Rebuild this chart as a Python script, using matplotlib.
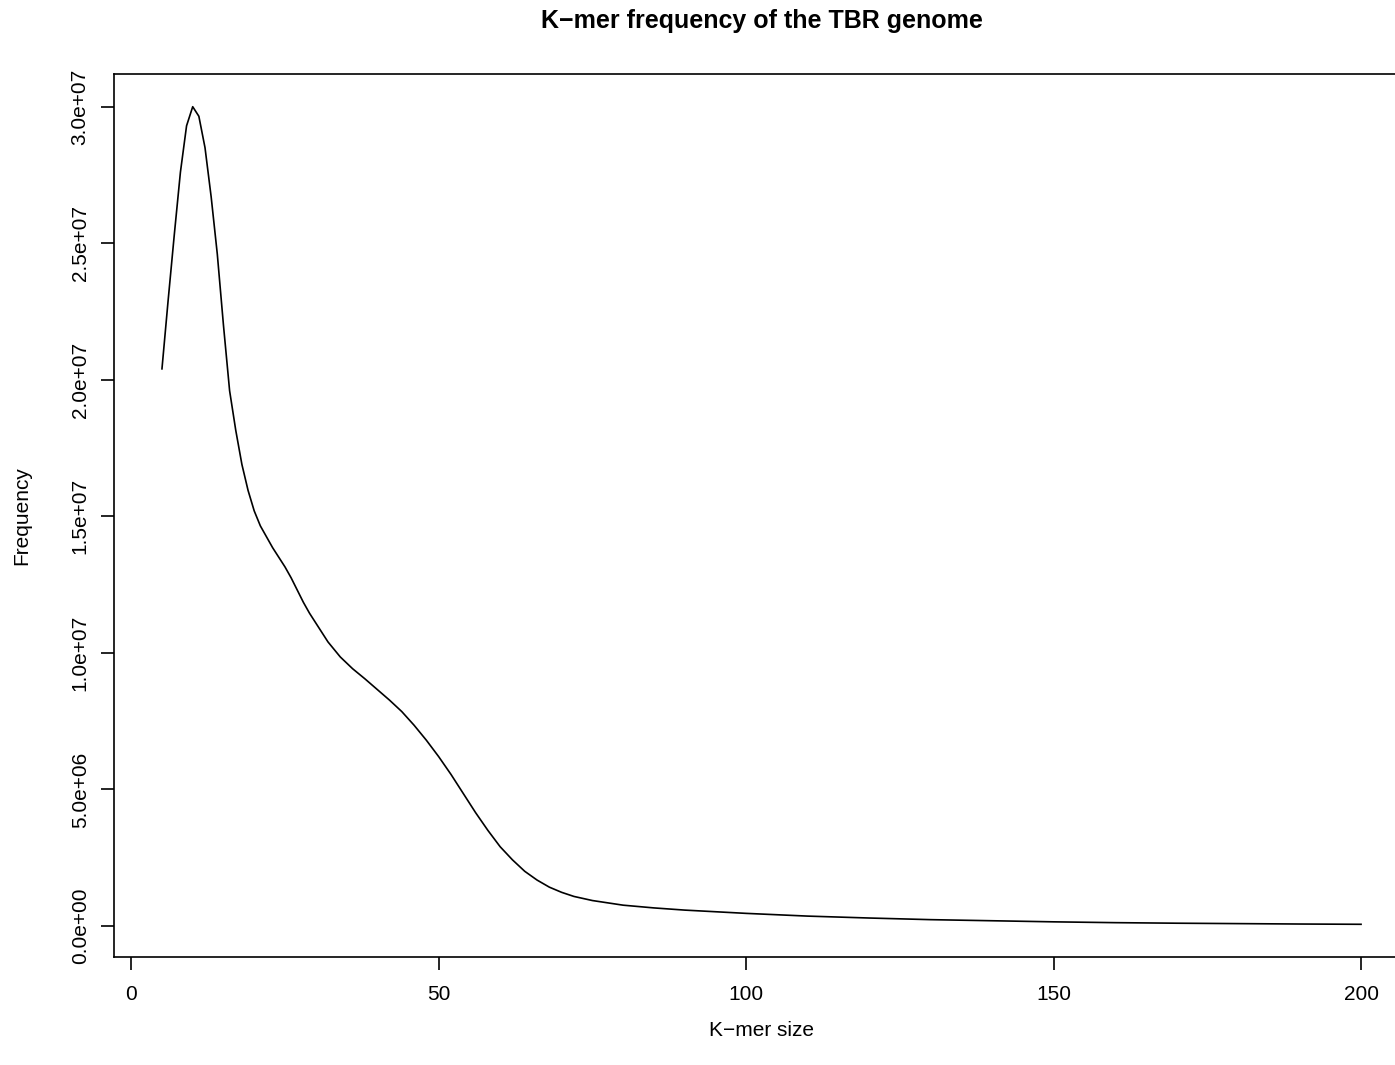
import matplotlib
matplotlib.use("Agg")
import matplotlib.pyplot as plt
import numpy as np

plt.rcParams['font.family'] = ['Liberation Sans', 'DejaVu Sans']

# k-mer size vs frequency
kmer_size = [5, 6, 7, 8, 9, 10, 11, 12, 13, 14, 15, 16, 17, 18, 19, 20,
             21, 22, 23, 24, 25, 26, 27, 28, 29, 30, 32, 34, 36, 38, 40,
             42, 44, 46, 48, 50, 52, 54, 56, 58, 60, 62, 64, 66, 68, 70,
             72, 75, 80, 85, 90, 95, 100, 110, 120, 130, 140, 150, 160,
             170, 180, 190, 200]
frequency = [20.4, 22.9, 25.3, 27.6, 29.3, 30.0, 29.65, 28.5, 26.7, 24.6,
             22.0, 19.6, 18.15, 16.9, 15.95, 15.2, 14.65, 14.25, 13.85,
             13.5, 13.15, 12.75, 12.3, 11.85, 11.45, 11.1, 10.4, 9.85,
             9.42, 9.05, 8.66, 8.27, 7.85, 7.35, 6.8, 6.2, 5.55, 4.85, 4.15,
             3.5, 2.9, 2.42, 2.0, 1.68, 1.42, 1.23, 1.08, 0.93, 0.76, 0.66,
             0.58, 0.52, 0.46, 0.36, 0.29, 0.23, 0.19, 0.15, 0.12, 0.10,
             0.085, 0.07, 0.06]
frequency = np.array(frequency) * 1e6

y_ticks = [0, 5e6, 1e7, 1.5e7, 2e7, 2.5e7, 3e7]
y_tick_labels = ["0.0e+00", "5.0e+06", "1.0e+07", "1.5e+07", "2.0e+07", "2.5e+07", "3.0e+07"]
x_ticks = [0, 50, 100, 150, 200]

W, H = 1395, 1065
fig = plt.figure(figsize=(W / 100, H / 100), dpi=100)
# plot region in pixels (R-style box, right edge falls just outside the image)
left, right, top, bottom = 114, 1409, 74, 957
ax = fig.add_axes([left / W, 1 - bottom / H, (right - left) / W, (bottom - top) / H])

ax.plot(kmer_size, frequency, color='black', linewidth=1.2)

xr = max(kmer_size) - min(kmer_size)
ax.set_xlim(min(kmer_size) - 0.04 * xr, max(kmer_size) + 0.04 * xr)
yr = frequency.max() - frequency.min()
ax.set_ylim(frequency.min() - 0.04 * yr, frequency.max() + 0.04 * yr)

ax.set_xticks(x_ticks)
ax.set_xticklabels([str(t) for t in x_ticks])
ax.set_yticks(y_ticks)
ax.set_yticklabels(y_tick_labels, rotation=90, va='center')

ax.tick_params(axis='both', direction='out', length=9.5, width=1.2,
               labelsize=15, colors='black')
ax.tick_params(axis='x', pad=11)
ax.tick_params(axis='y', pad=8)
for s in ax.spines.values():
    s.set_linewidth(1.2)
    s.set_color('black')

cx = (left + right) / 2 / W
fig.text(cx, 1 - 21 / H, "K\u2212mer frequency of the TBR genome",
         ha='center', va='center', fontsize=18, fontweight='bold')
fig.text(cx, 1 - 1030 / H, "K\u2212mer size", ha='center', va='center', fontsize=15)
fig.text(22 / W, 1 - (top + bottom) / 2 / H, "Frequency", ha='center', va='center',
         rotation=90, fontsize=15)

fig.savefig("out.png", dpi=100)
